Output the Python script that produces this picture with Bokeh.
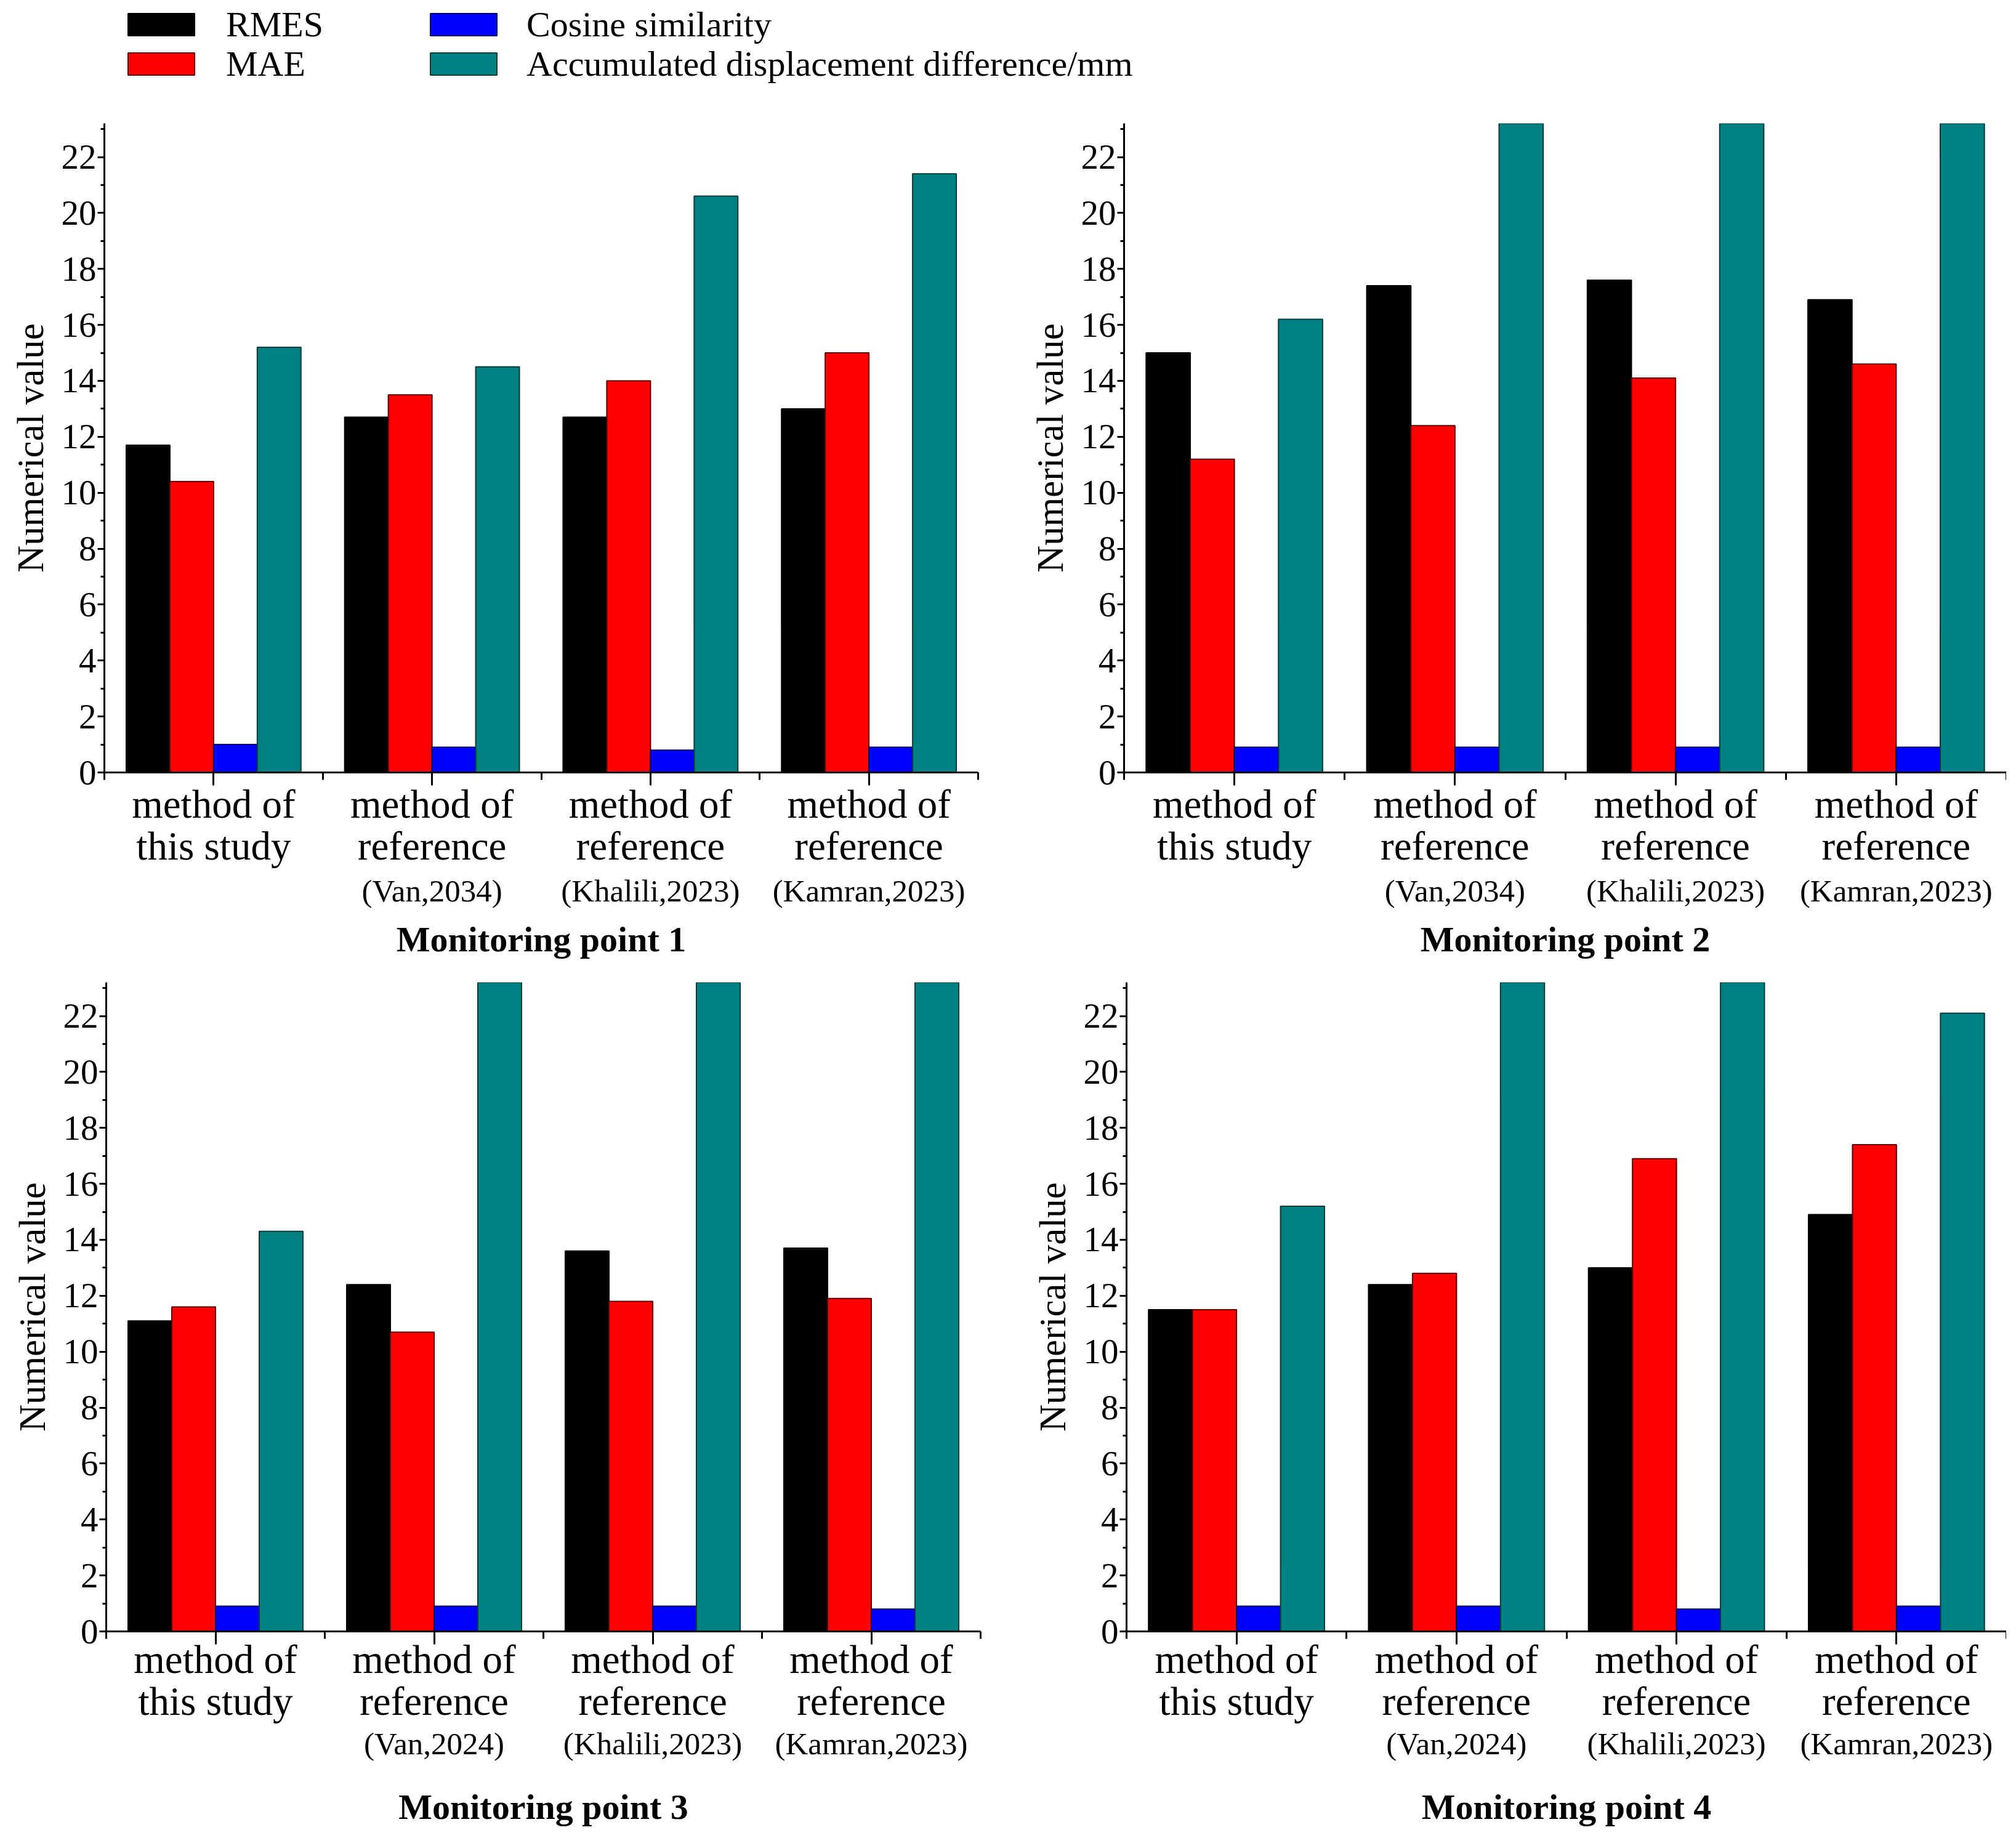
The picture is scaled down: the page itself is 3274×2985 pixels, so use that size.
from bokeh.plotting import figure
from bokeh.models import (Range1d, LinearAxis, FixedTicker, SingleIntervalTicker,
                          ColumnDataSource, Legend, LegendItem)
from bokeh.transform import dodge
from bokeh.layouts import column, row
from bokeh.embed import file_html
from bokeh.resources import INLINE

FONT = "Liberation Serif"

# ---------------- data ----------------
category_ids = ["this", "van", "khalili", "kamran"]
category_lines = ["method of\nthis study", "method of\nreference",
                  "method of\nreference", "method of\nreference"]
refs_top = ["", "(Van,2034)", "(Khalili,2023)", "(Kamran,2023)"]
refs_bottom = ["", "(Van,2024)", "(Khalili,2023)", "(Kamran,2023)"]
series_keys = ["rmes", "mae", "cos", "acc"]
series_names = ["RMES", "MAE", "Cosine similarity", "Accumulated displacement difference/mm"]
series_colors = ["#000000", "#ff0000", "#0000ff", "#008080"]
series_lines = ["#000000", "#5a0000", "#00005a", "#0a3a3a"]
y_ticks_interval = 2

# Monitoring point 1
p1_rmes = [11.7, 12.7, 12.7, 13.0]
p1_mae = [10.4, 13.5, 14.0, 15.0]
p1_cos = [1.0, 0.9, 0.8, 0.9]
p1_acc = [15.2, 14.5, 20.6, 21.4]
# Monitoring point 2 (accumulated bars beyond the axis top are clipped)
p2_rmes = [15.0, 17.4, 17.6, 16.9]
p2_mae = [11.2, 12.4, 14.1, 14.6]
p2_cos = [0.9, 0.9, 0.9, 0.9]
p2_acc = [16.2, 25.0, 25.0, 25.0]
# Monitoring point 3
p3_rmes = [11.1, 12.4, 13.6, 13.7]
p3_mae = [11.6, 10.7, 11.8, 11.9]
p3_cos = [0.9, 0.9, 0.9, 0.8]
p3_acc = [14.3, 25.0, 25.0, 25.0]
# Monitoring point 4
p4_rmes = [11.5, 12.4, 13.0, 14.9]
p4_mae = [11.5, 12.8, 16.9, 17.4]
p4_cos = [0.9, 0.9, 0.8, 0.9]
p4_acc = [15.2, 25.0, 25.0, 22.1]

titles = ["Monitoring point 1", "Monitoring point 2", "Monitoring point 3", "Monitoring point 4"]
Y_MAX = 23.2
N_CAT = len(category_ids)
CENTERS = [i + 0.5 for i in range(N_CAT)]   # slot centre of each category
BOUNDS = list(range(N_CAT + 1))             # slot boundaries


def series_source(rmes, mae, cos, acc):
    return ColumnDataSource(dict(cat=category_ids, pos=CENTERS,
                                 rmes=rmes, mae=mae, cos=cos, acc=acc))


def make_panel(title, rmes, mae, cos, acc, refs, width, height,
               left, right, top, bottom, s_cat, s_ref, s_title):
    p = figure(x_range=Range1d(0, N_CAT), y_range=Range1d(0, Y_MAX),
               width=width, height=height, output_backend="svg", toolbar_location=None,
               x_axis_location=None, y_axis_location=None,
               min_border_left=left, min_border_right=right,
               min_border_top=top, min_border_bottom=bottom)
    p.grid.visible = False
    p.outline_line_color = None
    p.background_fill_color = "white"
    p.border_fill_color = "white"

    src = series_source(rmes, mae, cos, acc)
    offsets = [-0.3, -0.1, 0.1, 0.3]
    for key, off, fc, lc in zip(series_keys, offsets, series_colors, series_lines):
        p.vbar(x=dodge("pos", off), top=key, width=0.2, source=src,
               fill_color=fc, line_color=lc, line_width=2)

    yax = LinearAxis(ticker=SingleIntervalTicker(interval=y_ticks_interval, num_minor_ticks=2),
                     axis_label="Numerical value")
    yax.axis_label_text_font = FONT
    yax.axis_label_text_font_size = "61px"
    yax.axis_label_text_font_style = "normal"
    yax.axis_label_text_color = "black"
    yax.axis_label_standoff = 14
    yax.major_label_text_font = FONT
    yax.major_label_text_font_size = "57px"
    yax.major_label_text_color = "black"
    yax.major_label_standoff = 2
    yax.axis_line_width = 3
    yax.major_tick_line_width = 3
    yax.minor_tick_line_width = 3
    yax.major_tick_out = 11
    yax.major_tick_in = 0
    yax.minor_tick_out = 6
    yax.minor_tick_in = 0
    p.add_layout(yax, "left")

    ax1 = LinearAxis(ticker=FixedTicker(ticks=CENTERS, minor_ticks=BOUNDS),
                     major_label_overrides=dict(zip(CENTERS, category_lines)))
    ax1.axis_line_width = 3
    ax1.major_tick_line_width = 3
    ax1.minor_tick_line_width = 3
    ax1.major_tick_out = 21
    ax1.major_tick_in = 0
    ax1.minor_tick_out = 12
    ax1.minor_tick_in = 0
    ax1.major_label_text_font = FONT
    ax1.major_label_text_font_size = "65px"
    ax1.major_label_text_color = "black"
    ax1.major_label_text_line_height = 0.95
    ax1.major_label_standoff = s_cat
    p.add_layout(ax1, "below")

    ax2 = LinearAxis(ticker=FixedTicker(ticks=CENTERS),
                     major_label_overrides=dict(zip(CENTERS, refs)),
                     axis_label=title)
    ax2.axis_line_color = None
    ax2.major_tick_line_color = None
    ax2.minor_tick_line_color = None
    ax2.major_tick_out = 0
    ax2.major_tick_in = 0
    ax2.minor_tick_out = 0
    ax2.minor_tick_in = 0
    ax2.major_label_text_font = FONT
    ax2.major_label_text_font_size = "51px"
    ax2.major_label_text_color = "black"
    ax2.major_label_standoff = s_ref
    ax2.axis_label_text_font = FONT
    ax2.axis_label_text_font_size = "58px"
    ax2.axis_label_text_font_style = "bold"
    ax2.axis_label_text_color = "black"
    ax2.axis_label_standoff = s_title
    p.add_layout(ax2, "below")
    return p


# ---------------- legend strip ----------------
leg = figure(width=3258, height=140, x_range=Range1d(0, 1), y_range=Range1d(0, 1),
             output_backend="svg", toolbar_location=None, min_border=0,
             x_axis_location=None, y_axis_location=None)
leg.grid.visible = False
leg.outline_line_color = None
leg_src = series_source(p1_rmes, p1_mae, p1_cos, p1_acc)
rs = [leg.vbar(x="pos", top=key, width=0.2, source=leg_src, fill_color=fc, line_color=lc,
               line_width=2, visible=False)
      for key, fc, lc in zip(series_keys, series_colors, series_lines)]


def make_legend(i, loc, standoff):
    lg = Legend(items=[LegendItem(label=series_names[i], renderers=[rs[i]])],
                location=loc, orientation="vertical", glyph_width=135, glyph_height=45,
                label_standoff=standoff, spacing=0, padding=0, margin=0,
                border_line_color=None, background_fill_alpha=0)
    lg.label_text_font = FONT
    lg.label_text_font_size = "58px"
    lg.label_text_color = "black"
    return lg


leg.add_layout(make_legend(0, (194, 67), 38))
leg.add_layout(make_legend(1, (194, 3), 38))
leg.add_layout(make_legend(2, (685, 67), 35))
leg.add_layout(make_legend(3, (685, 3), 35))

# ---------------- panels ----------------
p1 = make_panel(titles[0], p1_rmes, p1_mae, p1_cos, p1_acc, refs_top,
                1640, 1444, 169, 52, 60, 330, -6, 6, 15)
p2 = make_panel(titles[1], p2_rmes, p2_mae, p2_cos, p2_acc, refs_top,
                1618, 1444, 185, 0, 60, 330, -6, 6, 15)
p3 = make_panel(titles[2], p3_rmes, p3_mae, p3_cos, p3_acc, refs_bottom,
                1640, 1385, 172, 48, 11, 318, -12, 2, 39)
p4 = make_panel(titles[3], p4_rmes, p4_mae, p4_cos, p4_acc, refs_bottom,
                1618, 1385, 189, 0, 11, 318, -12, 2, 39)

layout = column(leg, row(p1, p2), row(p3, p4))
open("out.html", "w").write(file_html(layout, INLINE))
